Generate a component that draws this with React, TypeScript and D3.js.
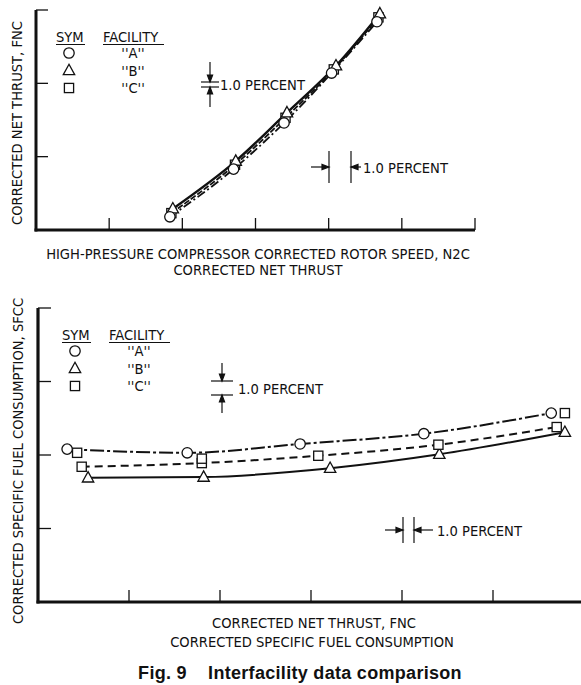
import React from "react";
import * as d3 from "d3";

// Upper panel: corrected net thrust vs HP compressor corrected rotor speed
const fncA: [number, number][] = [[1.83, 0.18], [2.70, 0.83], [3.39, 1.46], [4.04, 2.14], [4.66, 2.84]];
const fncB: [number, number][] = [[1.87, 0.29], [2.73, 0.94], [3.43, 1.60], [4.10, 2.24], [4.70, 2.95]];
const fncC: [number, number][] = [[1.85, 0.23], [2.72, 0.89], [3.41, 1.53], [4.07, 2.19], [4.68, 2.90]];

// Lower panel: corrected SFC vs corrected net thrust
const sfcA: [number, number][] = [[0.32, 2.08], [1.64, 2.03], [2.88, 2.15], [4.24, 2.29], [5.64, 2.57]];
const sfcB: [number, number][] = [[0.55, 1.69], [1.82, 1.70], [3.21, 1.82], [4.41, 2.01], [5.79, 2.31]];
const sfcC: [number, number][] = [[0.48, 1.84], [1.80, 1.89], [3.08, 1.99], [4.40, 2.14], [5.70, 2.38]];
const sfcCRepeat: [number, number][] = [[0.43, 2.03], [1.80, 1.95], [5.79, 2.57]];

const topXTicks = [1, 2, 3, 4, 5, 6];
const topYTicks = [1, 2, 3];
const botXTicks = [1, 2, 3, 4, 5];
const botYTicks = [1, 2, 3, 4];

const legendSyms = ["circle", "triangle", "square"];
const legendFacilities = ["''A''", "''B''", "''C''"];

const FONT = "'DejaVu Sans Condensed', 'Liberation Sans Narrow', 'DejaVu Sans', sans-serif";
const FS = 14.6;

function Marker({ kind, x, y }: { kind: string; x: number; y: number }) {
  const s = 5.2;
  if (kind === "circle") return <circle cx={x} cy={y} r={s} fill="#fff" stroke="#111" strokeWidth={1.3} />;
  if (kind === "triangle")
    return (
      <path
        d={`M${x},${y - s - 1}L${x + s + 0.5},${y + s - 1}L${x - s - 0.5},${y + s - 1}Z`}
        fill="#fff"
        stroke="#111"
        strokeWidth={1.3}
      />
    );
  return <rect x={x - 4.6} y={y - 4.6} width={9.2} height={9.2} fill="#fff" stroke="#111" strokeWidth={1.3} />;
}

function Legend({ x, y }: { x: number; y: number }) {
  return (
    <g fontFamily={FONT} fontSize={FS} fill="#111">
      <text x={x} y={y}>SYM</text>
      <line x1={x} x2={x + 29} y1={y + 2.5} y2={y + 2.5} stroke="#111" strokeWidth={1} />
      <text x={x + 47} y={y}>FACILITY</text>
      <line x1={x + 47} x2={x + 108} y1={y + 2.5} y2={y + 2.5} stroke="#111" strokeWidth={1} />
      {legendSyms.map((k, i) => (
        <g key={k}>
          <Marker kind={k} x={x + 13} y={y + 11 + i * 17.5} />
          <text x={x + 77} y={y + 16 + i * 17.5} textAnchor="middle">{legendFacilities[i]}</text>
        </g>
      ))}
    </g>
  );
}

function ArrowHead({ x, y, dir }: { x: number; y: number; dir: "down" | "up" | "right" | "left" }) {
  const L = 7, W = 2.6;
  let d = "";
  if (dir === "down") d = `M${x},${y}L${x - W},${y - L}L${x + W},${y - L}Z`;
  if (dir === "up") d = `M${x},${y}L${x - W},${y + L}L${x + W},${y + L}Z`;
  if (dir === "right") d = `M${x},${y}L${x - L},${y - W}L${x - L},${y + W}Z`;
  if (dir === "left") d = `M${x},${y}L${x + L},${y - W}L${x + L},${y + W}Z`;
  return <path d={d} fill="#111" />;
}

// vertical one-percent bracket: two short horizontal bars with arrows from above and below
function VBracket({ x, y1, y2, halfW, textX, arm }: { x: number; y1: number; y2: number; halfW: number; textX: number; arm: number }) {
  return (
    <g stroke="#111" strokeWidth={1.2}>
      <line x1={x - halfW} x2={x + halfW} y1={y1} y2={y1} />
      <line x1={x - halfW} x2={x + halfW} y1={y2} y2={y2} />
      <line x1={x} x2={x} y1={y1 - arm} y2={y1} />
      <line x1={x} x2={x} y1={y2} y2={y2 + arm} />
      <ArrowHead x={x} y={y1} dir="down" />
      <ArrowHead x={x} y={y2} dir="up" />
      <text x={textX} y={(y1 + y2) / 2 + 5.5} fontFamily={FONT} fontSize={FS} stroke="none" fill="#111">1.0 PERCENT</text>
    </g>
  );
}

// horizontal one-percent bracket: two short vertical bars with arrows from left and right
function HBracket({ x1, x2, yc, halfH, armL, armR, textX }: { x1: number; x2: number; yc: number; halfH: number; armL: number; armR: number; textX: number }) {
  return (
    <g stroke="#111" strokeWidth={1.2}>
      <line x1={x1} x2={x1} y1={yc - halfH} y2={yc + halfH} />
      <line x1={x2} x2={x2} y1={yc - halfH} y2={yc + halfH} />
      <line x1={x1 - armL} x2={x1} y1={yc} y2={yc} />
      <line x1={x2} x2={x2 + armR} y1={yc} y2={yc} />
      <ArrowHead x={x1} y={yc} dir="right" />
      <ArrowHead x={x2} y={yc} dir="left" />
      <text x={textX} y={yc + 5.5} fontFamily={FONT} fontSize={FS} stroke="none" fill="#111">1.0 PERCENT</text>
    </g>
  );
}

export default function App() {
  // upper panel scales
  const tx = d3.scaleLinear().domain([0, 6]).range([36, 475]);
  const ty = d3.scaleLinear().domain([0, 3]).range([230, 10]);
  // lower panel scales
  const bx = d3.scaleLinear().domain([0, 6]).range([38, 584]);
  const by = d3.scaleLinear().domain([0, 4]).range([602, 308]);

  const topLine = d3.line<[number, number]>().x((d) => tx(d[0])).y((d) => ty(d[1])).curve(d3.curveMonotoneX);
  const botLine = d3.line<[number, number]>().x((d) => bx(d[0])).y((d) => by(d[1])).curve(d3.curveMonotoneX);

  const ink = "#111";

  return (
    <svg width={581} height={685} style={{ position: "absolute", left: 0, top: 0, background: "#fff" }}>
      <rect width={581} height={685} fill="#fff" />

      {/* ---------- upper panel ---------- */}
      <g>
        <line x1={tx(0)} x2={tx(0)} y1={ty(3)} y2={ty(0) + 1.5} stroke={ink} strokeWidth={3} />
        <line x1={tx(0) - 1.5} x2={tx(6)} y1={ty(0)} y2={ty(0)} stroke={ink} strokeWidth={3} />
        {topYTicks.map((t) => (
          <line key={t} x1={tx(0)} x2={tx(0) + 12} y1={ty(t)} y2={ty(t)} stroke={ink} strokeWidth={1.3} />
        ))}
        {topXTicks.map((t) => (
          <line key={t} x1={tx(t)} x2={tx(t)} y1={ty(0)} y2={ty(0) - 12} stroke={ink} strokeWidth={1.3} />
        ))}
        <path d={topLine(fncA) || ""} fill="none" stroke={ink} strokeWidth={1.8} strokeDasharray="9,3,2,3" />
        <path d={topLine(fncC) || ""} fill="none" stroke={ink} strokeWidth={1.8} strokeDasharray="6,2" />
        <path d={topLine(fncB) || ""} fill="none" stroke={ink} strokeWidth={2.4} />
        {fncC.map((d, i) => <Marker key={"c" + i} kind="square" x={tx(d[0])} y={ty(d[1])} />)}
        {fncB.map((d, i) => <Marker key={"b" + i} kind="triangle" x={tx(d[0])} y={ty(d[1])} />)}
        {fncA.map((d, i) => <Marker key={"a" + i} kind="circle" x={tx(d[0])} y={ty(d[1])} />)}

        <Legend x={56} y={42} />
        <VBracket x={210} y1={82} y2={87} halfW={9} textX={220} arm={20} />
        <HBracket x1={329} x2={351} yc={167} halfH={16} armL={18} armR={10} textX={363} />

        <text
          transform={`translate(22,${(ty(0) + ty(3)) / 2 + 3}) rotate(-90)`}
          textAnchor="middle"
          fontFamily={FONT}
          fontSize={FS}
          fill={ink}
        >
          CORRECTED NET THRUST, FNC
        </text>
        <text x={258} y={259} textAnchor="middle" fontFamily={FONT} fontSize={FS} fill={ink}>
          HIGH-PRESSURE COMPRESSOR CORRECTED ROTOR SPEED, N2C
        </text>
        <text x={258} y={275} textAnchor="middle" fontFamily={FONT} fontSize={FS} fill={ink}>
          CORRECTED NET THRUST
        </text>
      </g>

      {/* ---------- lower panel ---------- */}
      <g>
        <line x1={bx(0)} x2={bx(0)} y1={by(4)} y2={by(0) + 1.5} stroke={ink} strokeWidth={3.2} />
        <line x1={bx(0) - 1.5} x2={581} y1={by(0)} y2={by(0)} stroke={ink} strokeWidth={3} />
        {botYTicks.map((t) => (
          <line key={t} x1={bx(0)} x2={bx(0) + 13} y1={by(t)} y2={by(t)} stroke={ink} strokeWidth={1.3} />
        ))}
        {botXTicks.map((t) => (
          <line key={t} x1={bx(t)} x2={bx(t)} y1={by(0)} y2={by(0) - 12} stroke={ink} strokeWidth={1.3} />
        ))}
        <path d={botLine(sfcA) || ""} fill="none" stroke={ink} strokeWidth={2} strokeDasharray="14,3,3,3" />
        <path d={botLine(sfcC) || ""} fill="none" stroke={ink} strokeWidth={2} strokeDasharray="8,5" />
        <path d={botLine(sfcB) || ""} fill="none" stroke={ink} strokeWidth={2} />
        {sfcB.map((d, i) => <Marker key={"b" + i} kind="triangle" x={bx(d[0])} y={by(d[1])} />)}
        {sfcC.map((d, i) => <Marker key={"c" + i} kind="square" x={bx(d[0])} y={by(d[1])} />)}
        {sfcCRepeat.map((d, i) => <Marker key={"r" + i} kind="square" x={bx(d[0])} y={by(d[1])} />)}
        {sfcA.map((d, i) => <Marker key={"a" + i} kind="circle" x={bx(d[0])} y={by(d[1])} />)}

        <Legend x={62} y={340} />
        <VBracket x={222} y1={381} y2={395} halfW={11} textX={238} arm={18} />
        <HBracket x1={403} x2={414} yc={530} halfH={13} armL={18} armR={19} textX={437} />

        <text
          transform={`translate(23,${(by(0) + by(4)) / 2 + 6}) rotate(-90)`}
          textAnchor="middle"
          fontFamily={FONT}
          fontSize={FS}
          fill={ink}
        >
          CORRECTED SPECIFIC FUEL CONSUMPTION, SFCC
        </text>
        <text x={314} y={628} textAnchor="middle" fontFamily={FONT} fontSize={FS} fill={ink}>
          CORRECTED NET THRUST, FNC
        </text>
        <text x={312} y={647} textAnchor="middle" fontFamily={FONT} fontSize={FS} fill={ink}>
          CORRECTED SPECIFIC FUEL CONSUMPTION
        </text>
      </g>

      <text
        x={300}
        y={679}
        textAnchor="middle"
        fontFamily="'Liberation Sans', Arial, sans-serif"
        fontWeight="bold"
        fontSize={18}
        letterSpacing={0.3}
        fill={ink}
        xmlSpace="preserve"
      >
        Fig. 9    Interfacility data comparison
      </text>
    </svg>
  );
}
